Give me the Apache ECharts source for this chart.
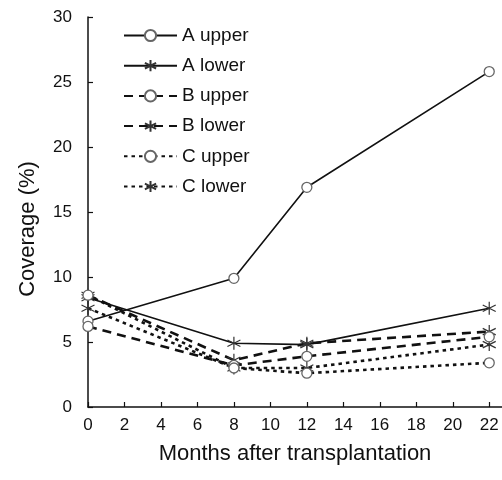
<!DOCTYPE html>
<html>
<head>
<meta charset="utf-8">
<script src="https://cdn.jsdelivr.net/npm/echarts@6/dist/echarts.min.js"></script>
<style>
  html, body { margin: 0; padding: 0; background: #fff; }
  #chart { width: 502px; height: 480px; }
</style>
</head>
<body>
<div id="chart"></div>
<script>
// months after transplantation
const months = [0, 8, 12, 22];
const xTicks = [0, 2, 4, 6, 8, 10, 12, 14, 16, 18, 20, 22];

// coverage (%)
const aUpper = [6.6, 9.9, 16.9, 25.8];
const aLower = [8.4, 4.9, 4.8, 7.6];
const bUpper = [6.2, 3.2, 3.9, 5.4];
const bLower = [8.6, 3.6, 4.9, 5.8];
const cUpper = [8.6, 3.0, 2.6, 3.4];
const cLower = [7.6, 3.0, 3.0, 4.8];

const seriesNames = ['A upper', 'A lower', 'B upper', 'B lower', 'C upper', 'C lower'];
const seriesData = [aUpper, aLower, bUpper, bLower, cUpper, cLower];

const STAR = 'path://M5,0L5,10M0.8,2.5L9.2,7.5M0.8,7.5L9.2,2.5';

const lineTypes = {
  A: { type: 'solid', width: 1.6 },
  B: { type: [9, 6], width: 2.6 },
  C: { type: [3.5, 4], width: 2.6 }
};

const chart = echarts.init(document.getElementById('chart'));

const series = seriesNames.map((name, i) => {
  const group = name.charAt(0);
  const isUpper = name.indexOf('upper') >= 0;
  return {
    name: name,
    type: 'line',
    data: months.map((m, j) => [m, seriesData[i][j]]),
    symbol: isUpper ? 'circle' : STAR,
    symbolSize: isUpper ? 10 : 13,
    lineStyle: { color: '#111', width: lineTypes[group].width, type: lineTypes[group].type },
    itemStyle: isUpper
      ? { color: '#fff', borderColor: '#666', borderWidth: 1.3 }
      : { color: 'transparent', borderColor: '#333', borderWidth: 1.2 },
    z: isUpper ? 3 : 2,
    animation: false
  };
});

const option = {
  animation: false,
  grid: { left: 88, right: 0, top: 17, bottom: 73 },
  legend: {
    orient: 'vertical',
    left: 123,
    top: 26,
    padding: 0,
    itemWidth: 53,
    itemHeight: 14,
    itemGap: 11.2,
    data: seriesNames,
    textStyle: { fontFamily: 'Liberation Sans', fontSize: 19, color: '#111', lineHeight: 18 }
  },
  xAxis: {
    type: 'value',
    min: 0,
    max: 22.7,
    name: 'Months after transplantation',
    nameLocation: 'middle',
    nameGap: 36,
    nameTextStyle: { fontFamily: 'Liberation Sans', fontSize: 22, color: '#111' },
    axisLine: { lineStyle: { color: '#111', width: 1.5 } },
    axisTick: { inside: true, length: 5, customValues: xTicks, lineStyle: { color: '#111', width: 1.2 } },
    axisLabel: { customValues: xTicks, margin: 10, fontFamily: 'Liberation Sans', fontSize: 17, color: '#111' },
    splitLine: { show: false }
  },
  yAxis: {
    type: 'value',
    min: 0,
    max: 30,
    interval: 5,
    axisLine: { show: true, lineStyle: { color: '#111', width: 1.5 } },
    axisTick: { show: true, inside: true, length: 5, lineStyle: { color: '#111', width: 1.2 } },
    axisLabel: { margin: 16, fontFamily: 'Liberation Sans', fontSize: 17, color: '#111' },
    splitLine: { show: false }
  },
  graphic: [{
    type: 'text',
    x: 28,
    y: 229,
    rotation: Math.PI / 2,
    style: {
      text: 'Coverage (%)',
      fontFamily: 'Liberation Sans',
      fontSize: 22,
      fill: '#111',
      align: 'center',
      verticalAlign: 'middle'
    }
  }],
  series: series
};

chart.setOption(option);
</script>
</body>
</html>
